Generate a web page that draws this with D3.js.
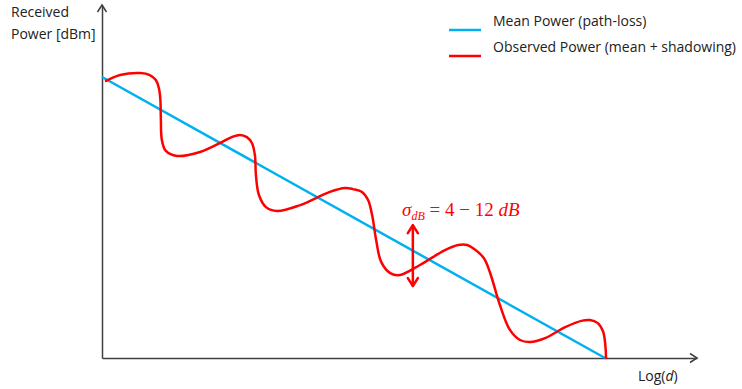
<!DOCTYPE html>
<html>
<head>
<meta charset="utf-8">
<script src="https://cdn.jsdelivr.net/npm/d3@7"></script>
<style>
  html, body { margin: 0; padding: 0; background: #fff; }
  svg { display: block; }
  .lbl { font-family: "Open Sans", "Noto Sans", sans-serif; font-size: 14px; fill: #222; }
  .math { font-family: "Liberation Serif", "DejaVu Serif", serif; fill: #ff0000; }
</style>
</head>
<body>
<script>
// log-distance axis (arbitrary units) and received power (arbitrary dB units)
const meanLogD = [0, 10];
const meanPower = [10, 0];

const obsLogD = [0.08, 0.36, 0.76, 0.95, 1.07, 1.13, 1.16, 1.17, 1.19, 1.27, 1.49, 1.95, 2.39, 2.58, 2.74,
  2.88, 2.98, 3.04, 3.06, 3.12, 3.26, 3.48, 3.94, 4.53, 4.83, 4.99, 5.17, 5.29, 5.37, 5.45, 5.55, 5.73, 5.92,
  6.32, 6.82, 7.08, 7.26, 7.40, 7.59, 7.71, 7.91, 8.11, 8.31, 8.51, 8.81, 9.21, 9.55, 9.70, 9.85, 9.96, 10.01, 10.02];
const obsPower = [9.86, 10.07, 10.14, 10.07, 9.89, 9.61, 9.20, 8.54, 7.76, 7.37, 7.19, 7.33, 7.69, 7.86, 7.94,
  7.86, 7.65, 7.22, 6.51, 5.80, 5.37, 5.23, 5.44, 5.91, 6.05, 6.01, 5.91, 5.62, 5.09, 4.20, 3.42, 3.02, 2.95,
  3.31, 3.84, 4.02, 4.02, 3.88, 3.56, 3.06, 1.89, 1.00, 0.64, 0.57, 0.71, 1.10, 1.33, 1.35, 1.25, 0.95, 0.40, 0];

// spread marker: position on the distance axis and its lower/upper power
const spreadLogD = 6.18;
const spreadRange = [2.56, 4.73];

const legendLabels = ["Mean Power (path-loss)", "Observed Power (mean + shadowing)"];
const colors = ["#00b0f0", "#ff0000"];

const W = 742, H = 389;
const svg = d3.select("body").append("svg").attr("width", W).attr("height", H);

const x = d3.scaleLinear().domain([0, 10]).range([102, 605]);
const y = d3.scaleLinear().domain([0, 10]).range([358, 77]);

const axisColor = "#404040";

// axes without ticks
const xAxisScale = d3.scaleLinear().domain([0, 1]).range([102, 697]);
const yAxisScale = d3.scaleLinear().domain([0, 1]).range([358, 5]);
const gx = svg.append("g").attr("transform", "translate(0,358)")
  .call(d3.axisBottom(xAxisScale).tickValues([]).tickSizeOuter(0));
const gy = svg.append("g").attr("transform", "translate(102,0)")
  .call(d3.axisLeft(yAxisScale).tickValues([]).tickSizeOuter(0));
[gx, gy].forEach(g => g.select(".domain").attr("stroke", axisColor).attr("stroke-width", 1.5));

// open arrowheads at axis ends
svg.append("path")
  .attr("d", `M${xAxisScale(1) - 7},${358 - 4.5} L${xAxisScale(1)},358 L${xAxisScale(1) - 7},${358 + 4.5}`)
  .attr("fill", "none").attr("stroke", axisColor).attr("stroke-width", 1.5);
svg.append("path")
  .attr("d", `M${102 - 4.5},${yAxisScale(1) + 7} L102,${yAxisScale(1)} L${102 + 4.5},${yAxisScale(1) + 7}`)
  .attr("fill", "none").attr("stroke", axisColor).attr("stroke-width", 1.5);

// mean power line
const line = d3.line().x(d => x(d[0])).y(d => y(d[1]));
svg.append("path")
  .datum(d3.zip(meanLogD, meanPower))
  .attr("d", line)
  .attr("fill", "none").attr("stroke", colors[0]).attr("stroke-width", 2.5);

// observed power curve
const smooth = d3.line().x(d => x(d[0])).y(d => y(d[1])).curve(d3.curveCatmullRom.alpha(0.5));
svg.append("path")
  .datum(d3.zip(obsLogD, obsPower))
  .attr("d", smooth)
  .attr("fill", "none").attr("stroke", colors[1]).attr("stroke-width", 2.5)
  .attr("stroke-linejoin", "round").attr("stroke-linecap", "round");

// double-headed arrow for the shadowing spread
const ax = x(spreadLogD), ay0 = y(spreadRange[1]), ay1 = y(spreadRange[0]);
svg.append("line").attr("x1", ax).attr("x2", ax).attr("y1", ay0).attr("y2", ay1)
  .attr("stroke", colors[1]).attr("stroke-width", 2.5);
svg.append("path")
  .attr("d", `M${ax - 5},${ay0 + 8} L${ax},${ay0} L${ax + 5},${ay0 + 8} M${ax - 5},${ay1 - 8} L${ax},${ay1} L${ax + 5},${ay1 - 8}`)
  .attr("fill", "none").attr("stroke", colors[1]).attr("stroke-width", 2.5)
  .attr("stroke-linecap", "round").attr("stroke-linejoin", "round");

// formula label
const eq = svg.append("text").attr("class", "math").attr("x", 402).attr("y", 216).attr("font-size", 19);
eq.append("tspan").attr("font-style", "italic").text("σ");
eq.append("tspan").attr("font-style", "italic").attr("font-size", 12).attr("dy", 4).text("dB");
eq.append("tspan").attr("dy", -4).text(" = 4 − 12 ");
eq.append("tspan").attr("font-style", "italic").text("dB");

// legend
const legend = svg.append("g");
legendLabels.forEach((t, i) => {
  const ly = 30 + i * 26;
  legend.append("line").attr("x1", 449).attr("x2", 481).attr("y1", ly).attr("y2", ly)
    .attr("stroke", colors[i]).attr("stroke-width", 2.5);
  legend.append("text").attr("class", "lbl").attr("x", 493).attr("y", ly - 4).text(t);
});

// axis titles
svg.append("text").attr("class", "lbl").attr("x", 11).attr("y", 17).text("Received");
svg.append("text").attr("class", "lbl").attr("x", 11).attr("y", 39).text("Power [dBm]");
const xt = svg.append("text").attr("class", "lbl").attr("x", 638).attr("y", 381);
xt.append("tspan").text("Log(");
xt.append("tspan").attr("font-style", "italic").text("d");
xt.append("tspan").text(")");
</script>
</body>
</html>
